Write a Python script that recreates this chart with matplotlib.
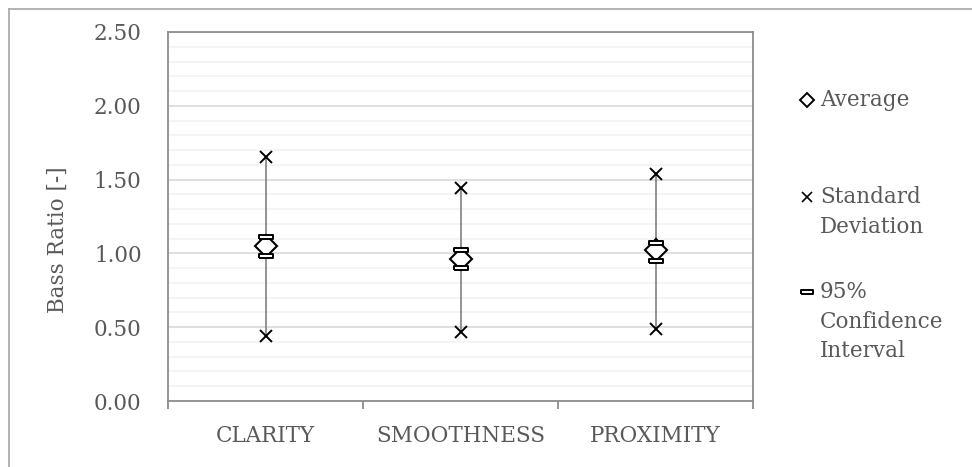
import matplotlib
matplotlib.use("Agg")
import matplotlib.pyplot as plt
from matplotlib.lines import Line2D
from matplotlib.ticker import MultipleLocator, FixedLocator, NullFormatter

plt.rcParams['font.family'] = ['DejaVu Serif']

# Bass ratio per attribute
categories = ['CLARITY', 'SMOOTHNESS', 'PROXIMITY']
average = [1.05, 0.96, 1.02]
sd_high = [1.65, 1.44, 1.54]
sd_low = [0.44, 0.47, 0.49]
ci_high = [1.11, 1.02, 1.07]
ci_low = [0.98, 0.90, 0.95]

TEXT = '#595959'
AXIS = '#8c8c8c'
FS = 15.5

fig = plt.figure(figsize=(9.72, 4.67), dpi=100)
ax = fig.add_axes([168 / 972, 1 - 401 / 467, 585 / 972, 369 / 467])

x = [i + 0.5 for i in range(len(categories))]

# rectangle marker for the confidence interval caps
cap = [(-1.4, -0.5), (1.4, -0.5), (1.4, 0.5), (-1.4, 0.5), (-1.4, -0.5)]

ax.vlines(x, sd_low, sd_high, color='#808080', lw=1.2, zorder=2)
ax.plot(x, sd_high, ls='none', marker='x', ms=8.5, mew=1.4, color='black', zorder=3)
ax.plot(x, sd_low, ls='none', marker='x', ms=8.5, mew=1.4, color='black', zorder=3)
ax.plot(x, average, ls='none', marker='D', ms=11, mew=1.5, mec='black', mfc='white', zorder=4)
ax.plot(x, ci_high, ls='none', marker=cap, ms=10, mew=1.4, mec='black', mfc='white', zorder=5)
ax.plot(x, ci_low, ls='none', marker=cap, ms=10, mew=1.4, mec='black', mfc='white', zorder=5)

ax.set_xlim(0, 3)
ax.set_ylim(0, 2.5)

# y axis
ax.yaxis.set_major_locator(MultipleLocator(0.5))
ax.yaxis.set_minor_locator(MultipleLocator(0.1))
ax.yaxis.set_major_formatter(lambda v, p: f'{v:.2f}')
ax.tick_params(axis='y', which='both', length=0, pad=19, labelsize=FS, labelcolor=TEXT)
ax.grid(axis='y', which='major', color='#d9d9d9', lw=1.2)
ax.grid(axis='y', which='minor', color='#f2f2f2', lw=1.2)
ax.set_axisbelow(True)

# x axis: labels centred, tick marks between categories
ax.xaxis.set_major_locator(FixedLocator(x))
ax.set_xticklabels(categories)
ax.xaxis.set_minor_locator(FixedLocator([0, 1, 2, 3]))
ax.xaxis.set_minor_formatter(NullFormatter())
ax.tick_params(axis='x', which='major', length=0, pad=17, labelsize=FS, labelcolor=TEXT)
ax.tick_params(axis='x', which='minor', length=6, width=1.3, color=AXIS, direction='out')

for side in ['left', 'right', 'top', 'bottom']:
    ax.spines[side].set_color(AXIS)
    ax.spines[side].set_linewidth(1.3)

ax.set_ylabel('Bass Ratio [-]', fontsize=FS, color=TEXT)
ax.yaxis.label.set_va('center')
ax.yaxis.set_label_coords(-0.188, 0.436)

# legend drawn beside the plot
W, H = 972, 467
entries = [
    ('Average', 100, dict(marker='D', ms=7, mew=1.4, mec='black', mfc='white')),
    ('Standard\nDeviation', 197, dict(marker='x', ms=6.5, mew=1.2, color='black')),
    ('95%\nConfidence\nInterval', 292, dict(marker=cap, ms=8, mew=1.4, mec='black', mfc='white')),
]
for label, ymid, style in entries:
    fig.add_artist(Line2D([807 / W], [1 - ymid / H], ls='none', transform=fig.transFigure, **style))
    fig.text(820 / W, 1 - (ymid - 11) / H, label, ha='left', va='top',
             fontsize=FS, color=TEXT, linespacing=1.45)

# chart border
fig.add_artist(Line2D([9 / W, 9 / W], [1 - 9 / H, 0], color='#a6a6a6', lw=1.2, transform=fig.transFigure))
fig.add_artist(Line2D([9 / W, 1], [1 - 9 / H, 1 - 9 / H], color='#a6a6a6', lw=1.2, transform=fig.transFigure))

fig.savefig('out.png', dpi=100)
